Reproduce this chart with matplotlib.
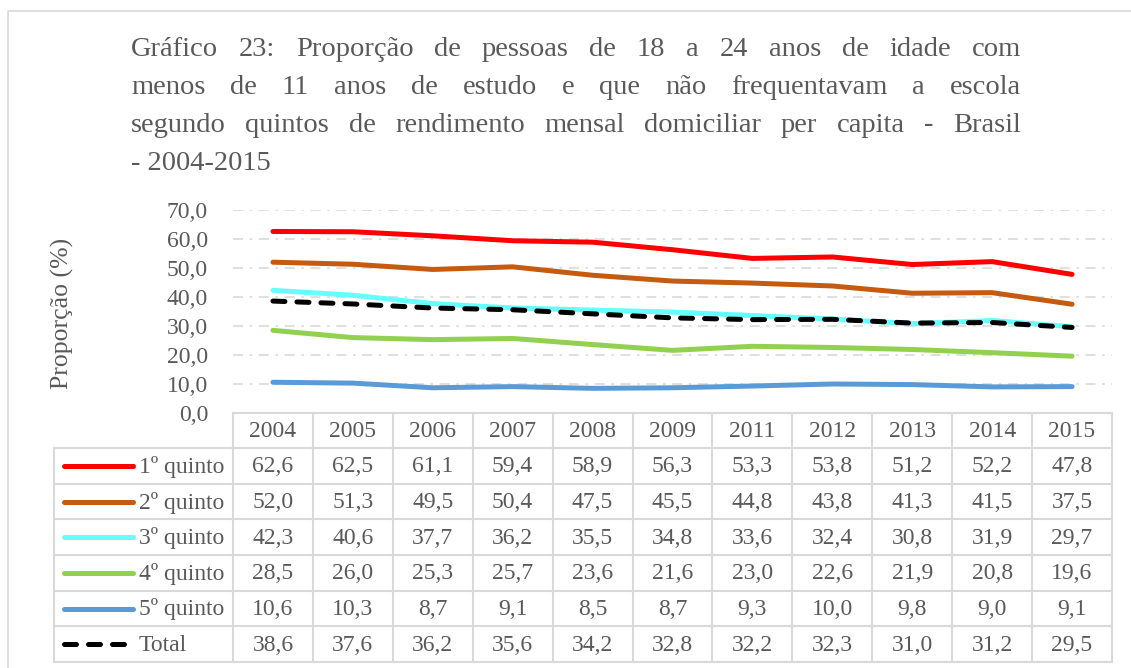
import matplotlib
matplotlib.use("Agg")
import matplotlib.pyplot as plt
from matplotlib.lines import Line2D

# Data
years = ["2004", "2005", "2006", "2007", "2008", "2009", "2011", "2012", "2013", "2014", "2015"]
series_names = ["1º quinto", "2º quinto", "3º quinto", "4º quinto", "5º quinto", "Total"]
q1 = [62.6, 62.5, 61.1, 59.4, 58.9, 56.3, 53.3, 53.8, 51.2, 52.2, 47.8]
q2 = [52.0, 51.3, 49.5, 50.4, 47.5, 45.5, 44.8, 43.8, 41.3, 41.5, 37.5]
q3 = [42.3, 40.6, 37.7, 36.2, 35.5, 34.8, 33.6, 32.4, 30.8, 31.9, 29.7]
q4 = [28.5, 26.0, 25.3, 25.7, 23.6, 21.6, 23.0, 22.6, 21.9, 20.8, 19.6]
q5 = [10.6, 10.3, 8.7, 9.1, 8.5, 8.7, 9.3, 10.0, 9.8, 9.0, 9.1]
total = [38.6, 37.6, 36.2, 35.6, 34.2, 32.8, 32.2, 32.3, 31.0, 31.2, 29.5]
values = [q1, q2, q3, q4, q5, total]
y_ticks = [0, 10, 20, 30, 40, 50, 60, 70]

title_lines = [
    "Gráfico 23: Proporção de pessoas de 18 a 24 anos de idade com",
    "menos de 11 anos de estudo e que não frequentavam a escola",
    "segundo quintos de rendimento mensal domiciliar per capita - Brasil",
    "- 2004-2015",
]

colors = ["#FF0000", "#C55A11", "#66FFFF", "#92D050", "#5B9BD5", "#000000"]
txt = "#595959"
grid_c = "#D9D9D9"
serif = "Liberation Serif"

W, H = 1131, 668
fig = plt.figure(figsize=(W / 100, H / 100), dpi=100)

# overlay axes in pixel coordinates
ov = fig.add_axes([0, 0, 1, 1])
ov.set_xlim(0, W)
ov.set_ylim(H, 0)
ov.axis("off")

# outer border
ov.plot([8, 8, W], [H, 11, 11], color="#D9D9D9", lw=1.2)

# plot area geometry (pixels)
px_l, px_r = 233, 1112
py_top, py_bot = 210, 413
ax = fig.add_axes([px_l / W, 1 - py_bot / H, (px_r - px_l) / W, (py_bot - py_top) / H])
ax.patch.set_alpha(0)
n = len(years)
ax.set_xlim(-0.5, n - 0.5)
ax.set_ylim(0, 70)
for s in ax.spines.values():
    s.set_visible(False)
ax.set_xticks([])
ax.set_yticks(y_ticks)
ax.set_yticklabels([f"{t:.1f}".replace(".", ",") for t in y_ticks],
                   fontfamily=serif, fontsize=17, color=txt)
ax.tick_params(axis="y", length=0, pad=18)
for t in y_ticks[1:]:
    ax.axhline(t, color=grid_c, lw=1.2, ls=(0, (6, 4, 1.5, 4)), zorder=0)

x = list(range(n))
for i, (vals, c) in enumerate(zip(values, colors)):
    if series_names[i] == "Total":
        ax.plot(x, vals, color=c, lw=3.6, dashes=(2.4, 2.4), dash_capstyle="round", zorder=5)
    else:
        ax.plot(x, vals, color=c, lw=3.6, solid_capstyle="round", zorder=3)

# y label
ov.text(62, 313, "Proporção (%)", rotation=90, ha="center", va="center",
        fontfamily=serif, fontsize=18.5, color=txt)

# table
tc = "#D9D9D9"
col_w = (px_r - px_l) / n
leg_l = 54
head_top, head_bot = 413, 448
row_h = (662 - head_bot) / len(series_names)
row_edges = [head_bot + k * row_h for k in range(len(series_names) + 1)]
ov.plot([px_l, px_r], [head_top, head_top], color=tc, lw=1.5)
for yy in row_edges:
    ov.plot([leg_l, px_r], [yy, yy], color=tc, lw=1.5)
for k in range(n + 1):
    ov.plot([px_l + k * col_w] * 2, [head_top, row_edges[-1]], color=tc, lw=1.5)
ov.plot([leg_l, leg_l], [head_bot, row_edges[-1]], color=tc, lw=1.5)

for k, yr in enumerate(years):
    ov.text(px_l + (k + 0.5) * col_w, (head_top + head_bot) / 2 + 1, yr, ha="center", va="center",
            fontfamily=serif, fontsize=17, color=txt)

for r, (name, vals, c) in enumerate(zip(series_names, values, colors)):
    yc = (row_edges[r] + row_edges[r + 1]) / 2
    if name == "Total":
        ov.add_line(Line2D([64, 126], [yc, yc], color=c, lw=3.6, dashes=(2.4, 2.4),
                           dash_capstyle="round"))
    else:
        ov.add_line(Line2D([64, 133], [yc, yc], color=c, lw=3.6, solid_capstyle="round"))
    ov.text(139, yc + 1, name, ha="left", va="center", fontfamily=serif, fontsize=17, color=txt)
    for k, v in enumerate(vals):
        ov.text(px_l + (k + 0.5) * col_w, yc + 1, f"{v:.1f}".replace(".", ","), ha="center",
                va="center", fontfamily=serif, fontsize=17, color=txt)

# justified title
renderer = fig.canvas.get_renderer()
t_left, t_right = 131, 1021
line_y = [50, 88, 125, 163]
for li, (line, yy) in enumerate(zip(title_lines, line_y)):
    words = line.split(" ")
    if li == len(title_lines) - 1:
        ov.text(t_left, yy, line, ha="left", va="center", fontfamily=serif, fontsize=20.5, color=txt)
        continue
    arts = [ov.text(0, yy, w, ha="left", va="center", fontfamily=serif, fontsize=20.5, color=txt)
            for w in words]
    widths = [a.get_window_extent(renderer).width for a in arts]
    gap = (t_right - t_left - sum(widths)) / (len(words) - 1)
    xx = t_left
    for a, w in zip(arts, widths):
        a.set_x(xx)
        xx += w + gap

fig.savefig("out.png", dpi=100)
